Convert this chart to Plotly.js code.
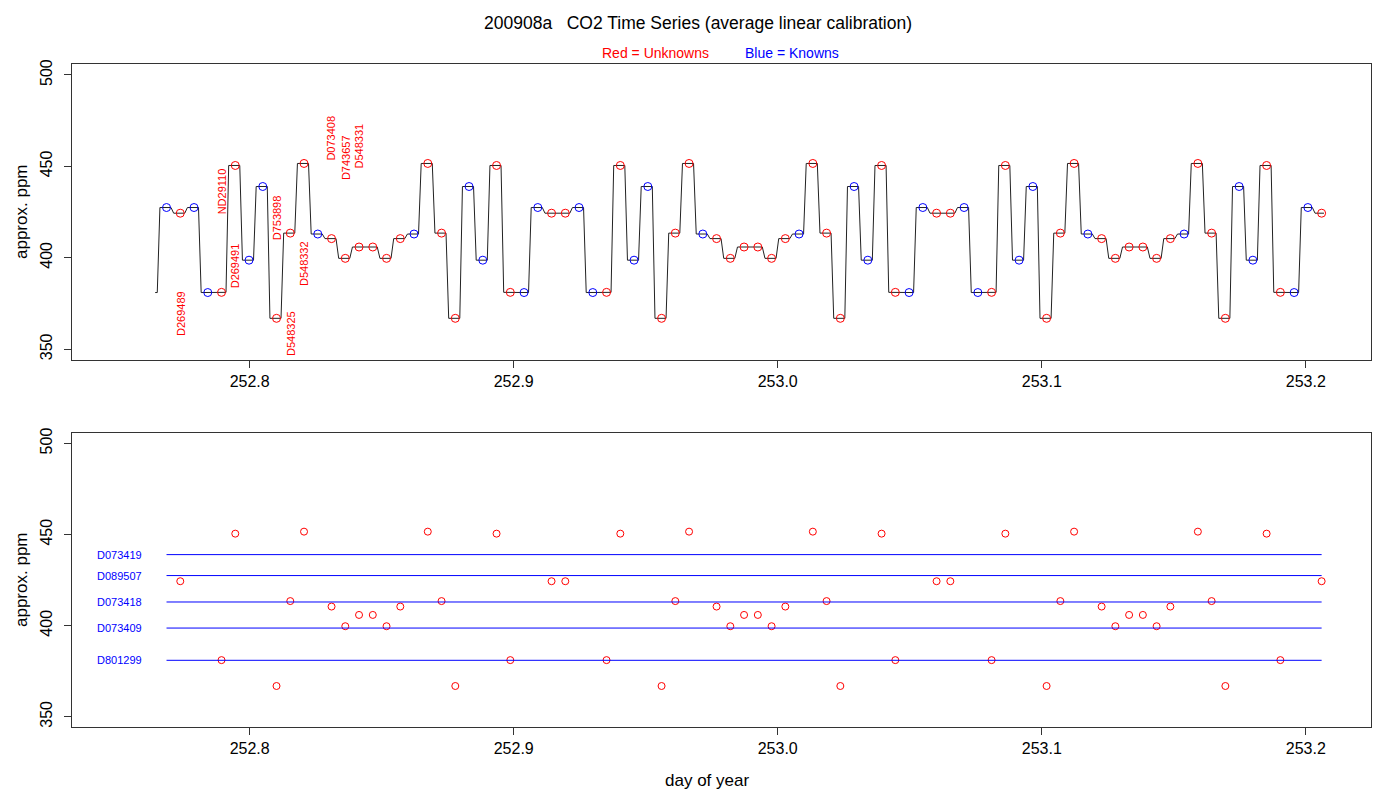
<!DOCTYPE html>
<html>
<head>
<meta charset="utf-8">
<script src="https://cdn.plot.ly/plotly-3.0.1.min.js"></script>
<style>
  html, body { margin: 0; padding: 0; background: #fff; }
  #myDiv { width: 1400px; height: 800px; }
</style>
</head>
<body>
<div id="myDiv"></div>
<script>
// tanks measured, in order (one sample every 7.5 min)
var sampleTanks = [
  'D089507','D269489','D089507','D801299','ND29110','D269491','D073409','D073419','D753898','D548325',
  'D548332','D073418','D073408','D743657','D548331','D548331','D743657','D073408','D073418','D548332',
  'D548325','D753898','D073419','D073409','D269491','ND29110','D801299','D089507','D269489','D269489',
  'D089507','D801299','ND29110','D269491','D073409','D073419','D753898','D548325','D548332','D073418',
  'D073408','D743657','D548331','D548331','D743657','D073408','D073418','D548332','D548325','D753898',
  'D073419','D073409','D269491','ND29110','D801299','D089507','D269489','D269489','D089507','D801299',
  'ND29110','D269491','D073409','D073419','D753898','D548325','D548332','D073418','D073408','D743657',
  'D548331','D548331','D743657','D073408','D073418','D548332','D548325','D753898','D073419','D073409',
  'D269491','ND29110','D801299','D089507','D269489'
];
var firstSampleDay = 252.7685;
var sampleStepDay = 7.5 / 1440;
var priorPpm = 381.0;   // level the trace comes in at before the first sample

var knownTanks = ['D073419', 'D089507', 'D073418', 'D073409', 'D801299'];
var knownPpm   = [439.0, 427.5, 413.0, 398.7, 381.0];

var unknownTanks = ['D269489', 'ND29110', 'D269491', 'D753898', 'D548325',
                    'D548332', 'D073408', 'D743657', 'D548331'];
var unknownPpm   = [424.4, 381.1, 450.5, 366.9, 413.5, 451.6, 410.5, 399.7, 405.9];

var xTicks = [252.8, 252.9, 253.0, 253.1, 253.2];
var yTicks = [350, 400, 450, 500];

// ---- build traces ----
var ppmOf = {};
knownTanks.forEach(function(t, i) { ppmOf[t] = knownPpm[i]; });
unknownTanks.forEach(function(t, i) { ppmOf[t] = unknownPpm[i]; });

var days = sampleTanks.map(function(t, i) { return firstSampleDay + i * sampleStepDay; });
var vals = sampleTanks.map(function(t) { return ppmOf[t]; });
var isKnown = sampleTanks.map(function(t) { return knownTanks.indexOf(t) >= 0; });

// step trace: each value held up to just after its sample, short ramp to the next
var pre = 0.0025, post = 0.0017;
var lx = [days[0] - 0.0043, days[0] - 0.0035], ly = [priorPpm, priorPpm];
days.forEach(function(d, i) {
  lx.push(d - pre); ly.push(vals[i]);
  if (i < days.length - 1) { lx.push(d + post); ly.push(vals[i]); }
  else { lx.push(d + 0.0009); ly.push(vals[i]); }
});

var ux = [], uy = [], kx = [], ky = [];
days.forEach(function(d, i) {
  if (isKnown[i]) { kx.push(d); ky.push(vals[i]); } else { ux.push(d); uy.push(vals[i]); }
});

var data = [
  {x: lx, y: ly, mode: 'lines', line: {color: '#222', width: 1}, xaxis: 'x', yaxis: 'y', hoverinfo: 'skip'},
  {x: ux, y: uy, mode: 'markers', marker: {symbol: 'circle-open', size: 8, color: 'red', line: {width: 1}},
   xaxis: 'x', yaxis: 'y', name: 'Unknowns'},
  {x: kx, y: ky, mode: 'markers', marker: {symbol: 'circle-open', size: 8, color: 'blue', line: {width: 1}},
   xaxis: 'x', yaxis: 'y', name: 'Knowns'},
  {x: ux, y: uy, mode: 'markers', marker: {symbol: 'circle-open', size: 7, color: 'red', line: {width: 1}},
   xaxis: 'x2', yaxis: 'y2', name: 'Unknowns'}
];

// reference lines for the knowns across the run
knownPpm.forEach(function(v, i) {
  data.push({x: [days[0], days[days.length - 1]], y: [v, v], mode: 'lines',
             line: {color: 'blue', width: 1}, xaxis: 'x2', yaxis: 'y2', name: knownTanks[i]});
});

var annotations = [];
var meanUnknown = unknownPpm.reduce(function(a, b) { return a + b; }, 0) / unknownPpm.length;
unknownTanks.forEach(function(t, k) {
  var i = sampleTanks.indexOf(t);
  var v = unknownPpm[k];
  annotations.push({x: days[i], y: v < meanUnknown ? v + 55 : v - 55, xref: 'x', yref: 'y',
    text: t, showarrow: false, textangle: -90, xanchor: 'center', yanchor: 'middle',
    font: {size: 11, color: 'red'}});
});
knownTanks.forEach(function(t, k) {
  annotations.push({x: 252.7505, y: knownPpm[k], xref: 'x2', yref: 'y2', text: t,
    showarrow: false, xanchor: 'center', yanchor: 'middle', font: {size: 11, color: 'blue'}});
});

// titles
var W = 1299, H = 663;
function px(p) { return (p - 72) / W; }
function py(p) { return (727 - p) / H; }
annotations.push({xref: 'paper', yref: 'paper', x: px(698), y: py(23), showarrow: false,
  text: '200908a   CO2 Time Series (average linear calibration)', font: {size: 17.5, color: '#000'},
  xanchor: 'center', yanchor: 'middle'});
annotations.push({xref: 'paper', yref: 'paper', x: px(655), y: py(53), showarrow: false,
  text: 'Red = Unknowns', font: {size: 14, color: 'red'}, xanchor: 'center', yanchor: 'middle'});
annotations.push({xref: 'paper', yref: 'paper', x: px(792), y: py(53), showarrow: false,
  text: 'Blue = Knowns', font: {size: 14, color: 'blue'}, xanchor: 'center', yanchor: 'middle'});
annotations.push({xref: 'paper', yref: 'paper', x: px(21), y: py(212), showarrow: false,
  text: 'approx. ppm', textangle: -90, font: {size: 17, color: '#000'}, xanchor: 'center', yanchor: 'middle'});
annotations.push({xref: 'paper', yref: 'paper', x: px(21), y: py(580), showarrow: false,
  text: 'approx. ppm', textangle: -90, font: {size: 17, color: '#000'}, xanchor: 'center', yanchor: 'middle'});
annotations.push({xref: 'paper', yref: 'paper', x: px(707), y: py(780), showarrow: false,
  text: 'day of year', font: {size: 17, color: '#000'}, xanchor: 'center', yanchor: 'middle'});

var xRange = [252.7327, 253.2247];
function xAxis(anchor) {
  return {range: xRange, anchor: anchor, tickvals: xTicks, ticktext: xTicks.map(function(v) { return v.toFixed(1); }),
    ticks: 'outside', ticklen: 7, tickcolor: '#333', showline: true, linecolor: '#333', linewidth: 1, mirror: true,
    showgrid: false, zeroline: false, tickfont: {size: 16, color: '#000'}};
}
function yAxis(domain, range, anchor) {
  return {domain: domain, range: range, anchor: anchor, tickvals: yTicks, tickangle: -90,
    ticks: 'outside', ticklen: 7, tickcolor: '#333', showline: true, linecolor: '#333', linewidth: 1, mirror: true,
    ticklabelstandoff: 6,
    showgrid: false, zeroline: false, tickfont: {size: 16, color: '#000'}};
}

var layout = {
  width: 1400, height: 800,
  margin: {l: 72, r: 29, t: 64, b: 73},
  paper_bgcolor: '#fff', plot_bgcolor: '#fff',
  font: {family: 'Liberation Sans, Arial, sans-serif'},
  showlegend: false,
  xaxis: xAxis('y'),
  yaxis: yAxis([py(360), 1], [344.1, 506.0], 'x'),
  xaxis2: xAxis('y2'),
  yaxis2: yAxis([0, py(432.7)], [344.4, 505.9], 'x2'),
  annotations: annotations
};

Plotly.newPlot('myDiv', data, layout, {staticPlot: true});
</script>
</body>
</html>
